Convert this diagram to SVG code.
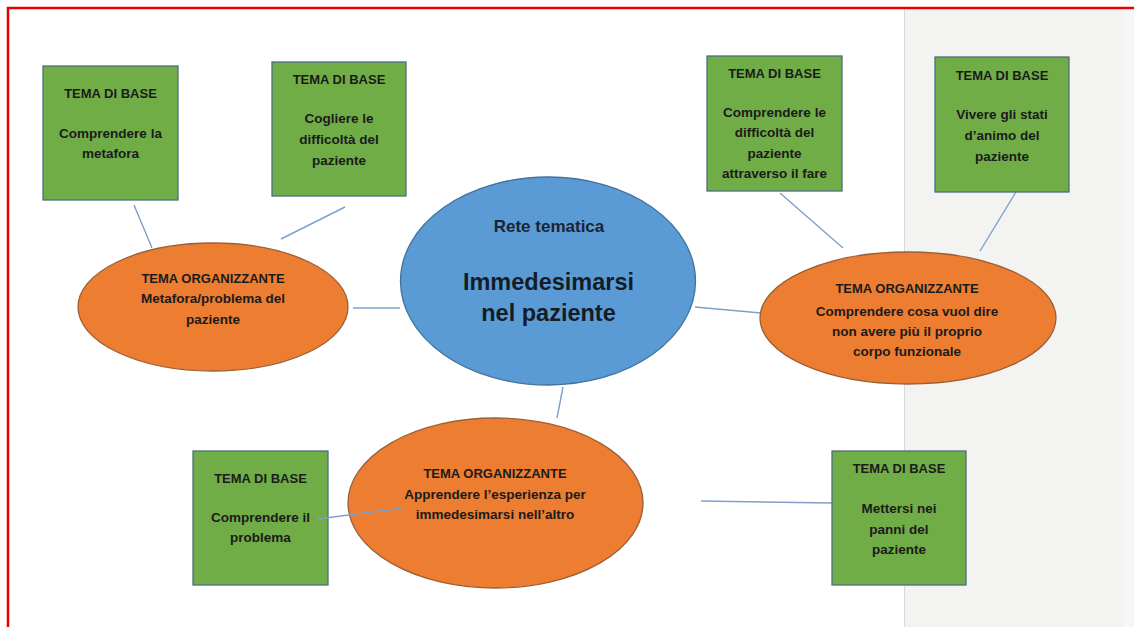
<svg xmlns="http://www.w3.org/2000/svg" width="1134" height="627" viewBox="0 0 1134 627">
  <style>
    .box { fill: #70ad47; stroke: #4d6e80; stroke-width: 1.3; }
    .org { fill: #ed7d31; stroke: #9a6038; stroke-width: 1.3; }
    .core { fill: #5b9bd5; stroke: #41719c; stroke-width: 1.3; }
    .conn line { stroke: #7f9fcb; stroke-width: 1.4; fill: none; }
    text { font-family: "Liberation Sans", Arial, sans-serif; fill: #1b1b1b; text-anchor: middle; font-weight: bold; }
    .h { font-size: 13px; }
    .b { font-size: 13.5px; }
    .core-t1 { font-size: 17px; fill: #1a2433; }
    .core-t2 { font-size: 23.5px; fill: #141c26; }
  </style>

  <!-- background -->
  <rect x="0" y="0" width="1134" height="627" fill="#ffffff"/>
  <rect x="904" y="9" width="230" height="618" fill="#f3f3f2"/>
  <rect x="1124" y="9" width="10" height="618" fill="#f7f7f7"/>
  <line x1="904.5" y1="9" x2="904.5" y2="627" stroke="#d8d8d8" stroke-width="1"/>
  <line x1="7" y1="8" x2="1134" y2="8" stroke="#e60000" stroke-width="2.5"/>
  <line x1="8" y1="7" x2="8" y2="627" stroke="#e60000" stroke-width="2.5"/>

  <!-- connectors (under nodes) -->
  <g id="connectors" class="conn">
    <line x1="134" y1="205" x2="152" y2="248"/>
    <line x1="345" y1="207" x2="281" y2="239"/>
    <line x1="353" y1="308" x2="400" y2="308"/>
    <line x1="695" y1="307" x2="761" y2="313"/>
    <line x1="780" y1="193" x2="843" y2="248"/>
    <line x1="1016" y1="192" x2="980" y2="251"/>
    <line x1="563" y1="387" x2="557" y2="418"/>
    <line x1="701" y1="501" x2="832" y2="503"/>
  </g>

  <g id="core">
    <ellipse class="core" cx="548" cy="281" rx="147.5" ry="104"/>
    <text class="core-t1" x="549" y="232">Rete tematica</text>
    <text class="core-t2" x="548.5" y="290">Immedesimarsi</text>
    <text class="core-t2" x="548.5" y="321">nel paziente</text>
  </g>

  <g id="org-left">
    <ellipse class="org" cx="213" cy="307" rx="135" ry="64"/>
    <text class="h" x="213" y="283">TEMA ORGANIZZANTE</text>
    <text class="b" x="213" y="303">Metafora/problema del</text>
    <text class="b" x="213" y="324">paziente</text>
  </g>

  <g id="org-right">
    <ellipse class="org" cx="908" cy="318" rx="148" ry="66"/>
    <text class="h" x="907" y="293">TEMA ORGANIZZANTE</text>
    <text class="b" x="907" y="316">Comprendere cosa vuol dire</text>
    <text class="b" x="907" y="336">non avere più il proprio</text>
    <text class="b" x="907" y="356">corpo funzionale</text>
  </g>

  <g id="org-bottom">
    <ellipse class="org" cx="495.5" cy="503" rx="147.5" ry="85"/>
    <text class="h" x="495" y="478">TEMA ORGANIZZANTE</text>
    <text class="b" x="495" y="499">Apprendere l’esperienza per</text>
    <text class="b" x="495" y="519">immedesimarsi nell’altro</text>
  </g>

  <g id="base-1">
    <rect class="box" x="43" y="66" width="135" height="134"/>
    <text class="h" x="110.5" y="98">TEMA DI BASE</text>
    <text class="b" x="110.5" y="138">Comprendere la</text>
    <text class="b" x="110.5" y="158">metafora</text>
  </g>

  <g id="base-2">
    <rect class="box" x="272" y="62" width="134" height="134"/>
    <text class="h" x="339" y="84">TEMA DI BASE</text>
    <text class="b" x="339" y="123">Cogliere le</text>
    <text class="b" x="339" y="144">difficoltà del</text>
    <text class="b" x="339" y="165">paziente</text>
  </g>

  <g id="base-3">
    <rect class="box" x="707" y="56" width="135" height="135"/>
    <text class="h" x="774.5" y="78">TEMA DI BASE</text>
    <text class="b" x="774.5" y="117">Comprendere le</text>
    <text class="b" x="774.5" y="137">difficoltà del</text>
    <text class="b" x="774.5" y="158">paziente</text>
    <text class="b" x="774.5" y="178">attraverso il fare</text>
  </g>

  <g id="base-4">
    <rect class="box" x="935" y="57" width="134" height="135"/>
    <text class="h" x="1002" y="80">TEMA DI BASE</text>
    <text class="b" x="1002" y="119">Vivere gli stati</text>
    <text class="b" x="1002" y="140">d’animo del</text>
    <text class="b" x="1002" y="161">paziente</text>
  </g>

  <g id="base-5">
    <rect class="box" x="193" y="451" width="135" height="134"/>
    <text class="h" x="260.5" y="483">TEMA DI BASE</text>
    <text class="b" x="260.5" y="522">Comprendere il</text>
    <text class="b" x="260.5" y="542">problema</text>
  </g>

  <g id="base-6">
    <rect class="box" x="832" y="451" width="134" height="134"/>
    <text class="h" x="899" y="473">TEMA DI BASE</text>
    <text class="b" x="899" y="513">Mettersi nei</text>
    <text class="b" x="899" y="534">panni del</text>
    <text class="b" x="899" y="554">paziente</text>
  </g>

  <!-- connector drawn over box 5 and bottom ellipse, as in the reference -->
  <g id="connectors-top" class="conn">
    <line x1="318" y1="519" x2="402" y2="508"/>
  </g>
</svg>
